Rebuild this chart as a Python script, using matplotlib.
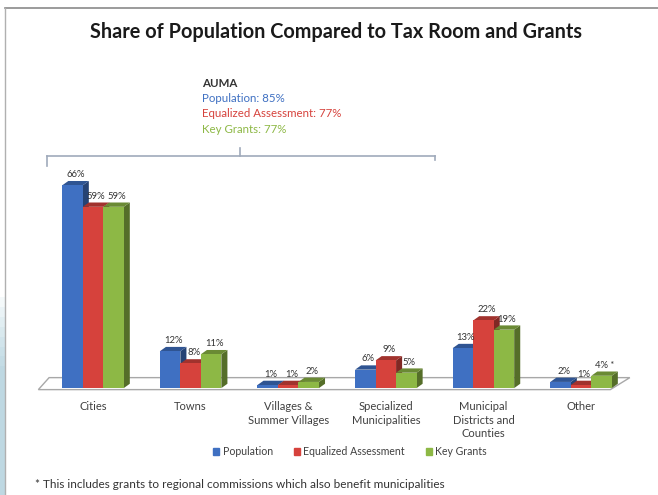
import numpy as np
import matplotlib
matplotlib.use("Agg")
import matplotlib.pyplot as plt
from matplotlib.patches import Polygon, Rectangle
from matplotlib.lines import Line2D
import matplotlib.colors as mcolors

plt.rcParams['font.family'] = ['Lato', 'DejaVu Sans']

categories = ["Cities", "Towns", "Villages &\nSummer Villages", "Specialized\nMunicipalities",
              "Municipal\nDistricts and\nCounties", "Other"]
population = [66, 12, 1, 6, 13, 2]
equalized = [59, 8, 1, 9, 22, 1]
grants = [59, 11, 2, 5, 19, 4]
series_names = ["Population", "Equalized Assessment", "Key Grants"]
colors = ["#3F70C2", "#D6423C", "#8DB845"]

auma_pop = 85
auma_ea = 77
auma_kg = 77

fig = plt.figure(figsize=(6.58, 4.95), dpi=100)
fig.patch.set_facecolor("white")

# slide frame and the bluish edge on the lower left
fig.add_artist(Line2D([0.008, 1.0], [0.984, 0.984], color="#8a8a8a", lw=1.2))
fig.add_artist(Line2D([0.008, 0.008], [0.0, 0.984], color="#b0b0b0", lw=1.0))
for i in range(8):
    fig.add_artist(Rectangle((0, 0), 0.008, 0.40 - i * 0.02, transform=fig.transFigure,
                             color="#7fb5c8", alpha=0.08, lw=0))

ax = fig.add_axes([0.0672, 0.216, 0.890, 0.4345])
ax.set_xlim(-0.5, 5.5)
ax.set_ylim(0, 70)
ax.axis("off")

x = np.arange(len(categories))
w = 0.21
dx = 0.062
dy = 1.4

# floor
floor = Polygon([(-0.56, -0.5), (5.3, -0.5), (5.5, 3.4), (-0.45, 3.4)], closed=True,
                facecolor="white", edgecolor="#a8a8a8", lw=1.0, clip_on=False, zorder=1)
ax.add_patch(floor)


def shade(c, f):
    r, g, b = mcolors.to_rgb(c)
    if f < 1:
        return (r * f, g * f, b * f)
    return (r + (1 - r) * (f - 1), g + (1 - g) * (f - 1), b + (1 - b) * (f - 1))


z = 2
for gi in range(len(categories)):
    for si, vals in enumerate([population, equalized, grants]):
        v = vals[gi]
        xc = x[gi] + (si - 1) * w
        c = colors[si]
        ax.add_patch(Polygon([(xc + w / 2, 0), (xc + w / 2 + dx, dy), (xc + w / 2 + dx, v + dy), (xc + w / 2, v)],
                             closed=True, facecolor=shade(c, 0.6), edgecolor="none", zorder=z, clip_on=False))
        ax.add_patch(Polygon([(xc - w / 2, v), (xc - w / 2 + dx, v + dy), (xc + w / 2 + dx, v + dy), (xc + w / 2, v)],
                             closed=True, facecolor=shade(c, 0.75), edgecolor="none", zorder=z, clip_on=False))
        ax.bar(xc, v, width=w, color=c, edgecolor="none", zorder=z + 0.5, clip_on=False)
        lab = f"{v}%"
        if gi == 5 and si == 2:
            lab = f"{v}% *"
        ax.text(xc + dx / 2, v + dy + 0.6, lab, ha="center", va="bottom", fontsize=6.8,
                color="#333333", zorder=20)
        z += 1

for gi, name in enumerate(categories):
    ax.text(x[gi], -4.2, name, ha="center", va="top", fontsize=8, color="#404040",
            linespacing=1.3)

handles = [Rectangle((0, 0), 1, 1, color=c) for c in colors]
fig.legend(handles, series_names, loc="center", bbox_to_anchor=(0.532, 0.087), ncol=3,
           frameon=False, fontsize=7.6, handlelength=0.6, handleheight=0.6, handletextpad=0.3,
           columnspacing=2.0, labelcolor="#404040")

fig.text(0.51, 0.935, "Share of Population Compared to Tax Room and Grants", ha="center",
         va="center", fontsize=14.3, fontweight="bold", color="#1a1a1a")

fig.text(0.053, 0.022, "* This includes grants to regional commissions which also benefit municipalities",
         ha="left", va="center", fontsize=8.5, color="#333333")

# AUMA bracket and summary
fig.text(0.307, 0.832, "AUMA", fontsize=8.3, fontweight="bold", color="#333333", va="center")
fig.text(0.307, 0.802, f"Population: {auma_pop}%", fontsize=8.3, color=colors[0], va="center")
fig.text(0.307, 0.770, f"Equalized Assessment: {auma_ea}%", fontsize=8.3, color=colors[1], va="center")
fig.text(0.307, 0.738, f"Key Grants: {auma_kg}%", fontsize=8.3, color=colors[2], va="center")

bc = "#a0aabb"
by = 1 - 156 / 495
fig.add_artist(Line2D([47 / 658, 435 / 658], [by, by], color=bc, lw=1.2))
fig.add_artist(Line2D([47 / 658, 47 / 658], [by, by - 10 / 495], color=bc, lw=1.2))
fig.add_artist(Line2D([435 / 658, 435 / 658], [by, by - 4 / 495], color=bc, lw=1.2))
fig.add_artist(Line2D([240 / 658, 240 / 658], [by, by + 8 / 495], color=bc, lw=1.2))

fig.savefig("out.png", dpi=100)
